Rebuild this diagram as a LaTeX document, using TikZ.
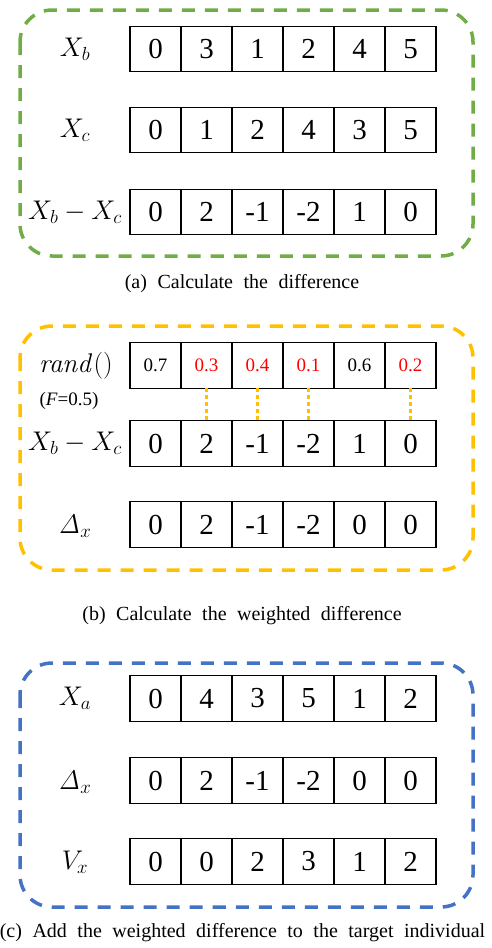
\RequirePackage{fix-cm}
\documentclass[tikz,border=0pt]{standalone}
\usepackage[no-math]{fontspec}
\setmainfont{Liberation Serif}
\newfontfamily\timesfont{Liberation Serif}
\usepackage{xcolor}
\usetikzlibrary{positioning}
\definecolor{frameA}{HTML}{70AD47}
\definecolor{frameB}{HTML}{FFC000}
\definecolor{frameC}{HTML}{4472C4}
\definecolor{pick}{HTML}{FF0000}

\tikzset{
  cell/.style={draw=black, line width=1.3pt, minimum width=51pt, minimum height=45.5pt, inner sep=0pt, outer sep=0pt, font=\timesfont\fontsize{29}{29}\selectfont},
  randcell/.style={cell, font=\timesfont\fontsize{19}{19}\selectfont},
  rowlabel/.style={font=\fontsize{27}{27}\selectfont},
  caption/.style={font={\timesfont\fontsize{20}{24}\selectfont\spaceskip=10.5pt\relax}},
  frame/.style={dash pattern=on 13pt off 10pt, line width=3.5pt, rounded corners=32pt},
  link/.style={draw=frameB, line width=3.3pt, dash pattern=on 3.3pt off 3.7pt}
}

\begin{document}
\begin{tikzpicture}[x=1pt, y=-1pt]
\useasboundingbox (0,0) rectangle (492,948);

% (a) difference
\draw[frame, draw=frameA] (20,10) rectangle (473,256);
\node[rowlabel] (lxb) at (75,49) {$X_b$};
\node[rowlabel] (lxc) at (75,130) {$X_c$};
\node[rowlabel] (ldab) at (75,212) {$X_b - X_c$};
\foreach \v [count=\i] in {0,3,1,2,4,5}
  \node[cell] (xb-\i) at (104.5+51*\i,49) {\v};
\foreach \v [count=\i] in {0,1,2,4,3,5}
  \node[cell] (xc-\i) at (104.5+51*\i,130) {\v};
\foreach \v [count=\i] in {0,2,-1,-2,1,0}
  \node[cell] (dab-\i) at (104.5+51*\i,212) {\v};
\node[caption] (capa) at (242,284) {(a) Calculate the difference};

% (b) weighted difference
\draw[frame, draw=frameB] (20,326) rectangle (473,570);
\node[rowlabel] (lrnd) at (76,366) {$\mathit{rand}()$};
\node[font=\timesfont\fontsize{19}{19}\selectfont] (lf) at (69,401) {(\textit{F}=0.5)};
\node[rowlabel] (ldbc) at (75,443.5) {$X_b - X_c$};
\node[rowlabel] (ldlt) at (75,526) {$\mathit{\Delta}_x$};
\foreach \v/\c [count=\i] in {0.7/black,0.3/pick,0.4/pick,0.1/pick,0.6/black,0.2/pick}
  \node[randcell, text=\c] (rnd-\i) at (104.5+51*\i,365.5) {\v};
\foreach \v [count=\i] in {0,2,-1,-2,1,0}
  \node[cell] (dbc-\i) at (104.5+51*\i,443.5) {\v};
\foreach \v [count=\i] in {0,2,-1,-2,0,0}
  \node[cell] (dlt-\i) at (104.5+51*\i,524.5) {\v};
\foreach \i in {2,3,4,6}
  \draw[link] (rnd-\i.south) -- (dbc-\i.north);
\node[caption] (capb) at (242,616) {(b) Calculate the weighted difference};

% (c) mutant vector
\draw[frame, draw=frameC] (20,663) rectangle (473,907);
\node[rowlabel] (lxa) at (75,698.5) {$X_a$};
\node[rowlabel] (ldlc) at (75,782) {$\mathit{\Delta}_x$};
\node[rowlabel] (lvx) at (75,862) {$V_x$};
\foreach \v [count=\i] in {0,4,3,5,1,2}
  \node[cell] (xa-\i) at (104.5+51*\i,698.5) {\v};
\foreach \v [count=\i] in {0,2,-1,-2,0,0}
  \node[cell] (dlc-\i) at (104.5+51*\i,780.5) {\v};
\foreach \v [count=\i] in {0,0,2,3,1,2}
  \node[cell] (vx-\i) at (104.5+51*\i,861.5) {\v};
\node[caption] (capc) at (242.5,933) {(c) Add the weighted difference to the target individual};
\end{tikzpicture}
\end{document}
